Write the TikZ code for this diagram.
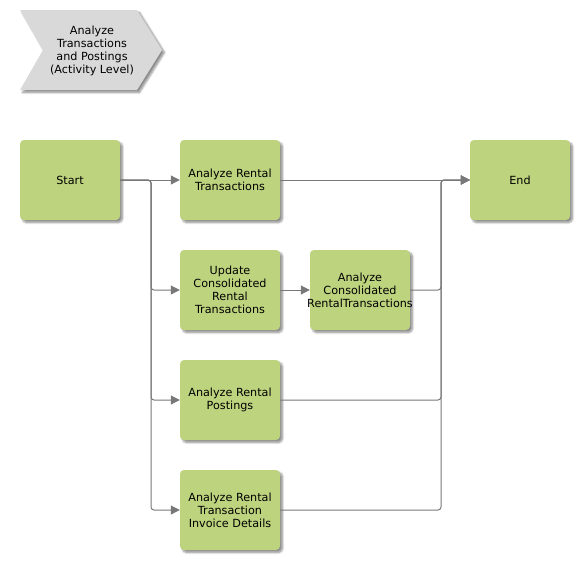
\documentclass[tikz,border=0pt]{standalone}
\usepackage{fontspec}
\setmainfont{DejaVu Sans}
\usetikzlibrary{arrows.meta,shadows.blur}
\definecolor{boxgreen}{RGB}{189,211,126}
\definecolor{chevgray}{RGB}{217,217,217}
\definecolor{linegray}{RGB}{120,120,120}
\tikzset{
  x=1pt,y=-1pt,
  actbox/.style={draw=none,fill=boxgreen,rounded corners=4pt,minimum width=100pt,minimum height=80pt,
    align=center,font=\fontsize{11.2}{13}\selectfont,inner sep=0pt,
    blur shadow={shadow xshift=2.5pt,shadow yshift=-2.5pt,shadow blur radius=2pt,shadow blur steps=6,shadow opacity=45}},
  conn/.style={draw=linegray,line width=1pt},
  arr/.style={conn,-{Triangle[length=9pt,width=9pt,fill=linegray]}},
}
\begin{document}
\begin{tikzpicture}
\useasboundingbox (0,0) rectangle (580,560);
% chevron
\path[fill=chevgray,blur shadow={shadow xshift=2.5pt,shadow yshift=-2.5pt,shadow blur radius=2pt,shadow blur steps=6,shadow opacity=45}]
  (20,10) -- (137,10) -- (162,50) -- (137,90) -- (20,90) -- (43,50) -- cycle;
\node[align=center,font=\fontsize{11.2}{13}\selectfont] (title) at (92,51) {Analyze\\Transactions\\and Postings\\(Activity Level)};
% nodes
\node[actbox] (start) at (70,180) {Start};
\node[actbox] (art) at (230,180) {Analyze Rental\\Transactions};
\node[actbox] (upd) at (230,290) {Update\\Consolidated\\Rental\\Transactions};
\node[actbox] (acr) at (360,290) {Analyze\\Consolidated\\\makebox[90pt]{RentalTransactions}};
\node[actbox] (arp) at (230,400) {Analyze Rental\\Postings};
\node[actbox] (ari) at (230,510) {Analyze Rental\\Transaction\\Invoice Details};
\node[actbox] (end) at (520,180) {End};
\coordinate (split) at (151,180);
\coordinate (merge) at (441,180);
% connectors
\draw[arr] (start.east) -- (art.west);
\draw[arr,rounded corners=3pt] (start.east) -- (split) |- (upd.west);
\draw[arr,rounded corners=3pt] (start.east) -- (split) |- (arp.west);
\draw[arr,rounded corners=3pt] (start.east) -- (split) |- (ari.west);
\draw[arr] (upd.east) -- (acr.west);
\draw[arr] (art.east) -- (end.west);
\draw[arr,rounded corners=3pt] (acr.east) -| (merge) -- (end.west);
\draw[arr,rounded corners=3pt] (arp.east) -| (merge) -- (end.west);
\draw[arr,rounded corners=3pt] (ari.east) -| (merge) -- (end.west);
\end{tikzpicture}
\end{document}
